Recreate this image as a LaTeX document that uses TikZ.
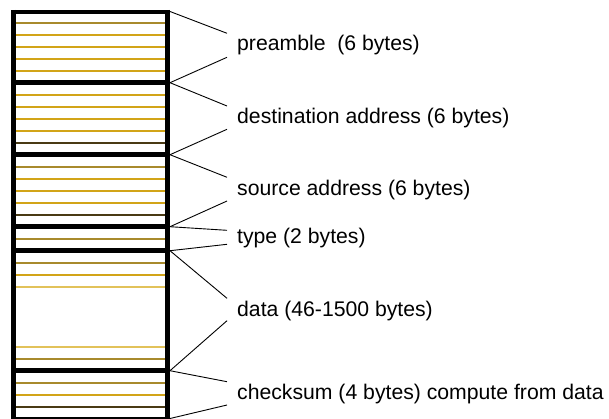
\documentclass[tikz,border=0pt]{standalone}
\usepackage{fontspec}
\setmainfont{Liberation Sans}
\definecolor{goldl}{HTML}{D2A418}
\definecolor{olivel}{HTML}{A88A2C}
\definecolor{darkl}{HTML}{4A3A14}
\definecolor{lightl}{HTML}{E2C25A}
\begin{document}
\begin{tikzpicture}[x=1pt,y=-1pt,
  stripe/.style={line width=2pt},
  frame/.style={line width=4.8pt, black},
  conn/.style={line width=0.9pt, black},
  lbl/.style={anchor=base west, inner sep=0pt, font=\fontsize{21.2}{25}\selectfont}]
\useasboundingbox (0,0) rectangle (609,418);
\fill[white] (0,0) rectangle (609,418);
% stripes
\foreach \y/\c in {22.7/olivel,34.7/goldl,46.7/goldl,58.7/goldl,70.7/goldl,
  94.7/goldl,106.7/goldl,118.7/goldl,130.7/goldl,142.7/darkl,
  166.7/olivel,178.7/goldl,190.7/goldl,202.7/goldl,214.7/darkl,
  238.7/olivel,
  262.7/olivel,274.7/goldl,286.7/lightl,346.7/lightl,358.7/olivel,
  382.7/olivel,394.7/goldl,406.7/darkl}
  \draw[stripe,\c] (16,\y) -- (165,\y);
% frame
\draw[frame] (13.5,9.8) -- (13.5,422);
\draw[frame] (167.5,9.8) -- (167.5,422);
\foreach \y in {12,82.7,154.7,226.7,250.7,370.7,419.8}
  \draw[frame] (11.1,\y) -- (169.9,\y);
% corner coordinates
\coordinate (c0) at (170,11.5);
\coordinate (c1) at (170,82.7);
\coordinate (c2) at (170,154.7);
\coordinate (c3) at (170,226.7);
\coordinate (c4) at (170,250.7);
\coordinate (c5) at (170,370.7);
\coordinate (c6) at (170,418.5);
% label line ends
\coordinate (p1) at (227,33.3);  \coordinate (p2) at (227,57.3);
\coordinate (d1) at (227,106);   \coordinate (d2) at (227,129.3);
\coordinate (s1) at (227,177.3); \coordinate (s2) at (227,201);
\coordinate (t1) at (227,230.3); \coordinate (t2) at (227,244.3);
\coordinate (a1) at (227,298.3); \coordinate (a2) at (227,320.7);
\coordinate (k1) at (227,381.7); \coordinate (k2) at (227,405);
% labels
\node[lbl] (lp) at (237,50) {preamble\ \ (6 bytes)};
\node[lbl] (ld) at (237,123) {destination address (6 bytes)};
\node[lbl] (ls) at (237,195) {source address (6 bytes)};
\node[lbl] (lt) at (237,243) {type (2 bytes)};
\node[lbl] (la) at (237,316) {data (46-1500 bytes)};
\node[lbl] (lk) at (237,399) {checksum (4 bytes) compute from data};
% connectors
\draw[conn] (c0) -- (p1); \draw[conn] (c1) -- (p2);
\draw[conn] (c1) -- (d1); \draw[conn] (c2) -- (d2);
\draw[conn] (c2) -- (s1); \draw[conn] (c3) -- (s2);
\draw[conn] (c3) -- (t1); \draw[conn] (c4) -- (t2);
\draw[conn] (c4) -- (a1); \draw[conn] (c5) -- (a2);
\draw[conn] (c5) -- (k1); \draw[conn] (c6) -- (k2);
\end{tikzpicture}
\end{document}
